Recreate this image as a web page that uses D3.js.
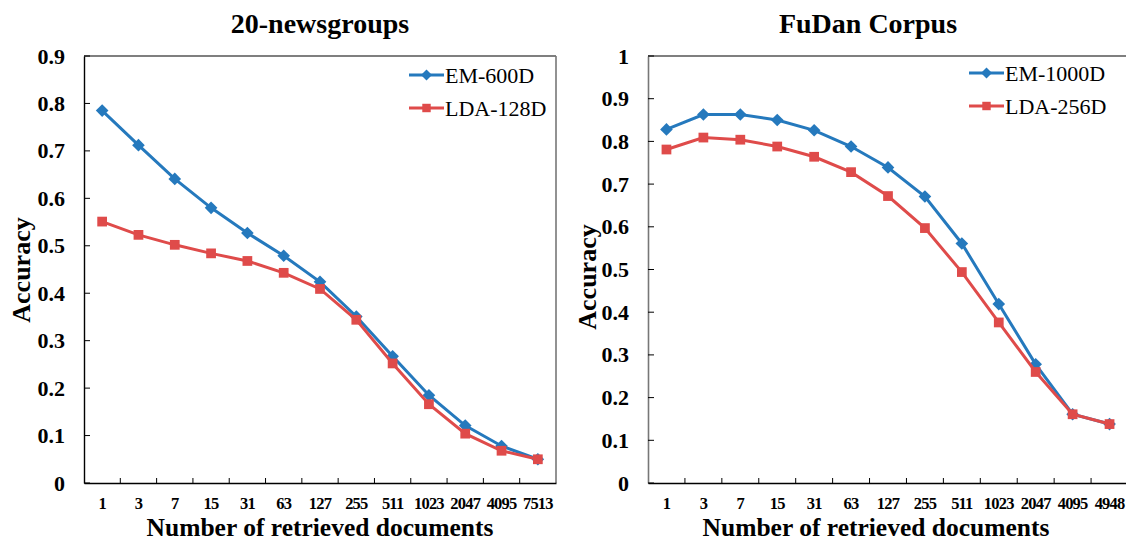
<!DOCTYPE html>
<html><head><meta charset="utf-8">
<script src="https://cdn.jsdelivr.net/npm/d3@7"></script>
<style>
body{margin:0;background:#fff;}
</style></head>
<body><svg id="c" width="1126" height="541"></svg>
<script>
// ---- data ----
const newsCategories = ["1","3","7","15","31","63","127","255","511","1023","2047","4095","7513"];
const newsEM600 = [0.785,0.712,0.641,0.580,0.527,0.479,0.424,0.351,0.267,0.185,0.121,0.078,0.050];
const newsLDA128 = [0.551,0.523,0.502,0.484,0.468,0.443,0.409,0.344,0.252,0.166,0.104,0.068,0.050];
const newsYTicks = [0,0.1,0.2,0.3,0.4,0.5,0.6,0.7,0.8,0.9];

const fudanCategories = ["1","3","7","15","31","63","127","255","511","1023","2047","4095","4948"];
const fudanEM1000 = [0.828,0.863,0.863,0.850,0.826,0.788,0.739,0.671,0.561,0.419,0.278,0.161,0.138];
const fudanLDA256 = [0.781,0.809,0.804,0.788,0.764,0.728,0.672,0.597,0.494,0.376,0.260,0.161,0.138];
const fudanYTicks = [0,0.1,0.2,0.3,0.4,0.5,0.6,0.7,0.8,0.9,1];

const FONT = "Liberation Serif";
const BLUE = "#2579bd", RED = "#df4b4a";
const svg = d3.select("#c");

function panel(o){
  const g = svg.append("g");
  const x = d3.scaleBand().domain(o.cats).range([o.x0, o.x1]).padding(0);
  const y = d3.scaleLinear().domain([0, o.ymax]).range([o.yb, o.yt]);
  // frame
  g.append("line").attr("x1",o.x0).attr("x2",o.frameR).attr("y1",o.yt).attr("y2",o.yt).attr("stroke","#000").attr("stroke-width",1.2);
  g.append("line").attr("x1",o.frameR).attr("x2",o.frameR).attr("y1",o.yt).attr("y2",o.yb).attr("stroke","#777").attr("stroke-width",1.6);
  // y axis
  const ya = d3.axisLeft(y).tickValues(o.yticks).tickSize(0).tickPadding(19)
     .tickFormat(d => d===0 ? "0" : (d===1 ? "1" : d3.format(".1f")(d)));
  const yg = g.append("g").attr("transform",`translate(${o.x0},0)`).call(ya);
  yg.attr("font-family",FONT);
  yg.select(".domain").attr("stroke",o.leftColor).attr("stroke-width",o.leftW);
  yg.selectAll("text").attr("font-family",FONT).attr("font-size",22).attr("font-weight","bold").attr("fill","#000");
  g.selectAll(".ytk").data(o.yticks).join("line").attr("class","ytk")
    .attr("x1",o.x0).attr("x2",o.x0+6).attr("y1",d=>y(d)).attr("y2",d=>y(d))
    .attr("stroke","#000").attr("stroke-width",1);
  // x axis
  const xa = d3.axisBottom(x).tickSize(0).tickPadding(14);
  const xg = g.append("g").attr("transform",`translate(0,${o.yb})`).call(xa);
  xg.attr("font-family",FONT);
  xg.select(".domain").attr("stroke","#000").attr("stroke-width",1.4);
  xg.selectAll("text").attr("font-family",FONT).attr("font-size",16.5).attr("font-weight","bold").attr("fill","#000").attr("letter-spacing","-0.8");
  g.selectAll(".xtk").data(o.cats.slice(1)).join("line").attr("class","xtk")
    .attr("x1",d=>x(d)).attr("x2",d=>x(d)).attr("y1",o.yb).attr("y2",o.yb-5)
    .attr("stroke","#000").attr("stroke-width",1);
  // titles
  g.append("text").attr("x",o.titleX).attr("y",33).attr("text-anchor","middle").attr("font-family",FONT)
    .attr("font-size",28).attr("font-weight","bold").text(o.title);
  g.append("text").attr("x",o.xtitleX).attr("y",536).attr("text-anchor","middle").attr("font-family",FONT)
    .attr("font-size",25.5).attr("font-weight","bold").text("Number of retrieved documents");
  g.append("text").attr("transform",`translate(${o.ylabX},${o.ylabY}) rotate(-90)`).attr("font-family",FONT)
    .attr("text-anchor","middle").attr("font-size",26).attr("font-weight","bold").text("Accuracy");
  // series
  const cx = d => x(d) + x.bandwidth()/2;
  const line = d3.line().x((d,i)=>cx(o.cats[i])).y(d=>y(d));
  const series = [
    {vals:o.s1, color:BLUE, sym:d3.symbolSquare, size:80, rot:45, name:o.n1},
    {vals:o.s2, color:RED, sym:d3.symbolSquare, size:95, rot:0, name:o.n2}
  ];
  series.forEach((s)=>{
    g.append("path").datum(s.vals).attr("d",line).attr("fill","none")
      .attr("stroke",s.color).attr("stroke-width",3);
    g.selectAll(null).data(s.vals).join("path")
      .attr("transform",(d,i)=>`translate(${cx(o.cats[i])},${y(d)}) rotate(${s.rot})`)
      .attr("d",d3.symbol().type(s.sym).size(s.size)).attr("fill",s.color);
  });
  // legend
  series.forEach((s,k)=>{
    const ly = o.legY + k*33;
    g.append("line").attr("x1",o.legX).attr("x2",o.legX+35).attr("y1",ly).attr("y2",ly)
      .attr("stroke",s.color).attr("stroke-width",3);
    g.append("path").attr("transform",`translate(${o.legX+17.5},${ly}) rotate(${s.rot})`)
      .attr("d",d3.symbol().type(s.sym).size(s.size*0.75)).attr("fill",s.color);
    g.append("text").attr("x",o.legX+36).attr("y",ly).attr("dy","0.35em").attr("font-family",FONT)
      .attr("font-size",22).attr("fill","#000").text(s.name);
  });
}

panel({cats:newsCategories, s1:newsEM600, s2:newsLDA128, n1:"EM-600D", n2:"LDA-128D",
  yticks:newsYTicks, ymax:0.9, x0:84, x1:556, frameR:556, yt:56, yb:483,
  leftColor:"#000", leftW:1.4, title:"20-newsgroups", titleX:320, xtitleX:320,
  ylabX:30, ylabY:270, legX:409, legY:75});
panel({cats:fudanCategories, s1:fudanEM1000, s2:fudanLDA256, n1:"EM-1000D", n2:"LDA-256D",
  yticks:fudanYTicks, ymax:1, x0:648, x1:1128, frameR:1134, yt:56, yb:483,
  leftColor:"#777", leftW:1.6, title:"FuDan Corpus", titleX:868, xtitleX:876,
  ylabX:596, ylabY:277, legX:969, legY:73});
</script></body></html>
